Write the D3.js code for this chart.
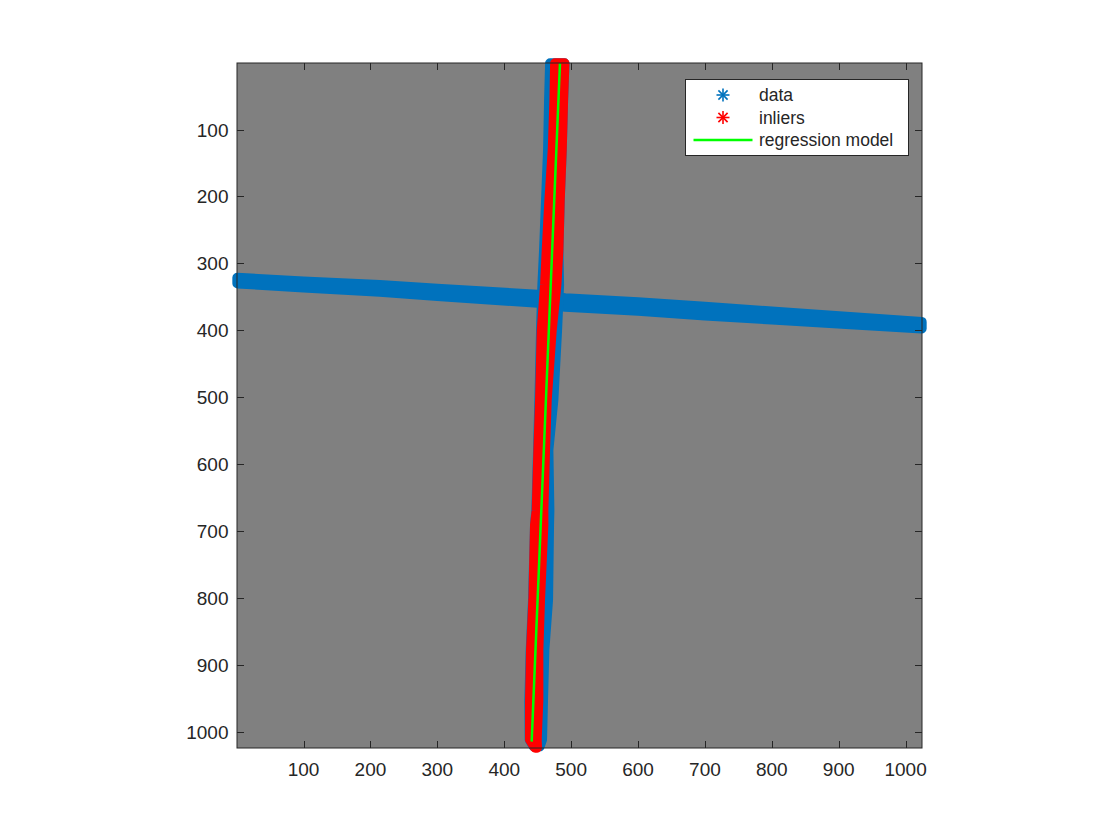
<!DOCTYPE html>
<html>
<head>
<meta charset="utf-8">
<script src="https://cdn.jsdelivr.net/npm/d3@7"></script>
<style>
  html, body { margin: 0; padding: 0; background: #ffffff; }
  svg { display: block; }
  text { font-family: "Liberation Sans", Arial, Helvetica, sans-serif; fill: #262626; }
</style>
</head>
<body>
<svg id="chart" width="1120" height="840"></svg>
<script>
// ---- data (image pixel coordinates) ----
const xTicks = [100, 200, 300, 400, 500, 600, 700, 800, 900, 1000];
const yTicks = [100, 200, 300, 400, 500, 600, 700, 800, 900, 1000];

// "data" points: vertical band (edges of the cloud of point centres per row)
const dataVertY     = [1, 56, 130, 205, 280, 332, 400, 504, 579, 669, 691, 803, 878, 953, 1012, 1022];
const dataVertLeft  = [468.5, 467, 465.5, 462.5, 459.5, 457, 455, 452.5, 450.5, 448, 446, 443, 439.5, 437.5, 438, 444];
const dataVertRight = [490, 488, 486, 483, 481, 482, 479, 473.5, 466, 467.5, 467, 465.5, 460, 458, 456.5, 453];

// "data" points: horizontal band (edges per column)
const dataHorX      = [1, 100, 214, 300, 450, 491, 600, 700, 800, 917, 1024];
const dataHorTop    = [321.5, 327, 332.5, 338, 347, 352, 358, 365, 372, 380, 387.5];
const dataHorBottom = [330, 336, 342.5, 349, 359, 365, 371, 378, 384, 391, 397.5];

// "inliers" points: vertical band
const inlierY     = [1, 56, 130, 205, 280, 332, 400, 504, 579, 669, 691, 803, 878, 953, 1012, 1024];
const inlierLeft  = [476, 475, 472.5, 467.5, 463.5, 461, 456, 453.5, 451, 448.5, 446, 443.5, 440, 438.5, 438.5, 446];
const inlierRight = [490, 488, 486, 483, 481, 478, 471, 463.5, 461, 458.5, 458.5, 453.5, 451, 451, 448.5, 449];

// regression model line
const regX = [483.3, 441];
const regY = [1, 1015];

const legendLabels = ["data", "inliers", "regression model"];

// ---- layout ----
const svg = d3.select("#chart");
const L = 237, R = 922, T = 63, B = 748;
const x = d3.scaleLinear().domain([0.5, 1024.5]).range([L, R]);
const y = d3.scaleLinear().domain([0.5, 1024.5]).range([T, B]);

const COL_BLUE = "#0072BD", COL_RED = "#FF0000", COL_GREEN = "#00FF00";
const AX = "#262626";
const markerR = 5;

// background of axes
svg.append("rect").attr("x", L).attr("y", T).attr("width", R - L).attr("height", B - T)
  .attr("fill", "#808080");

function vBand(ys, ls, rs) {
  const pts = ys.map((v, i) => ({ y: v, l: ls[i], r: rs[i] }));
  return d3.area().y(d => y(d.y)).x0(d => x(d.l)).x1(d => x(d.r))(pts);
}
function hBand(xs, ts, bs) {
  const pts = xs.map((v, i) => ({ x: v, t: ts[i], b: bs[i] }));
  return d3.area().x(d => x(d.x)).y0(d => y(d.t)).y1(d => y(d.b))(pts);
}

// data (blue)
const gData = svg.append("g");
[hBand(dataHorX, dataHorTop, dataHorBottom), vBand(dataVertY, dataVertLeft, dataVertRight)].forEach(p => {
  gData.append("path").attr("d", p).attr("fill", COL_BLUE).attr("stroke", COL_BLUE)
    .attr("stroke-width", markerR * 2).attr("stroke-linejoin", "round");
});

// inliers (red)
svg.append("path").attr("d", vBand(inlierY, inlierLeft, inlierRight))
  .attr("fill", COL_RED).attr("stroke", COL_RED)
  .attr("stroke-width", markerR * 2).attr("stroke-linejoin", "round");

// regression line
svg.append("path")
  .attr("d", d3.line().x(d => x(d[0])).y(d => y(d[1]))(regX.map((v, i) => [v, regY[i]])))
  .attr("stroke", COL_GREEN).attr("stroke-width", 2.5).attr("fill", "none");

// axes box with inward ticks on all four sides
const tickLen = 7;
const gAx = svg.append("g").attr("stroke", AX).attr("stroke-width", 1).attr("fill", "none");
gAx.append("rect").attr("x", L).attr("y", T).attr("width", R - L).attr("height", B - T);
xTicks.forEach(t => {
  const px = Math.round(x(t)) + 0.5;
  gAx.append("line").attr("x1", px).attr("x2", px).attr("y1", B).attr("y2", B - tickLen);
  gAx.append("line").attr("x1", px).attr("x2", px).attr("y1", T).attr("y2", T + tickLen);
});
yTicks.forEach(t => {
  const py = Math.round(y(t)) + 0.5;
  gAx.append("line").attr("x1", L).attr("x2", L + tickLen).attr("y1", py).attr("y2", py);
  gAx.append("line").attr("x1", R).attr("x2", R - tickLen).attr("y1", py).attr("y2", py);
});

// tick labels
const fontTick = 19;
svg.append("g").selectAll("text").data(xTicks).join("text")
  .attr("x", d => x(d)).attr("y", B + 28).attr("text-anchor", "middle")
  .attr("font-size", fontTick).text(d => d);
svg.append("g").selectAll("text").data(yTicks).join("text")
  .attr("x", L - 8.5).attr("y", d => y(d) + 7).attr("text-anchor", "end")
  .attr("font-size", fontTick).text(d => d);

// legend
const lg = svg.append("g");
lg.append("rect").attr("x", 685.5).attr("y", 79.5).attr("width", 223).attr("height", 76)
  .attr("fill", "#ffffff").attr("stroke", AX).attr("stroke-width", 1);
const rowY = [95, 117.5, 140];
function star(g, cx, cy, r, col) {
  [0, 45, 90, 135].forEach(a => {
    const rad = a * Math.PI / 180;
    g.append("line")
      .attr("x1", cx - r * Math.cos(rad)).attr("y1", cy - r * Math.sin(rad))
      .attr("x2", cx + r * Math.cos(rad)).attr("y2", cy + r * Math.sin(rad))
      .attr("stroke", col).attr("stroke-width", 1.6);
  });
}
star(lg, 723, rowY[0], 6.5, COL_BLUE);
star(lg, 723, rowY[1], 6.5, COL_RED);
lg.append("line").attr("x1", 693.5).attr("x2", 752.5).attr("y1", rowY[2]).attr("y2", rowY[2])
  .attr("stroke", COL_GREEN).attr("stroke-width", 2.5);
legendLabels.forEach((s, i) => {
  lg.append("text").attr("x", 759).attr("y", rowY[i] + 6).attr("font-size", 17.5).text(s);
});
</script>
</body>
</html>
